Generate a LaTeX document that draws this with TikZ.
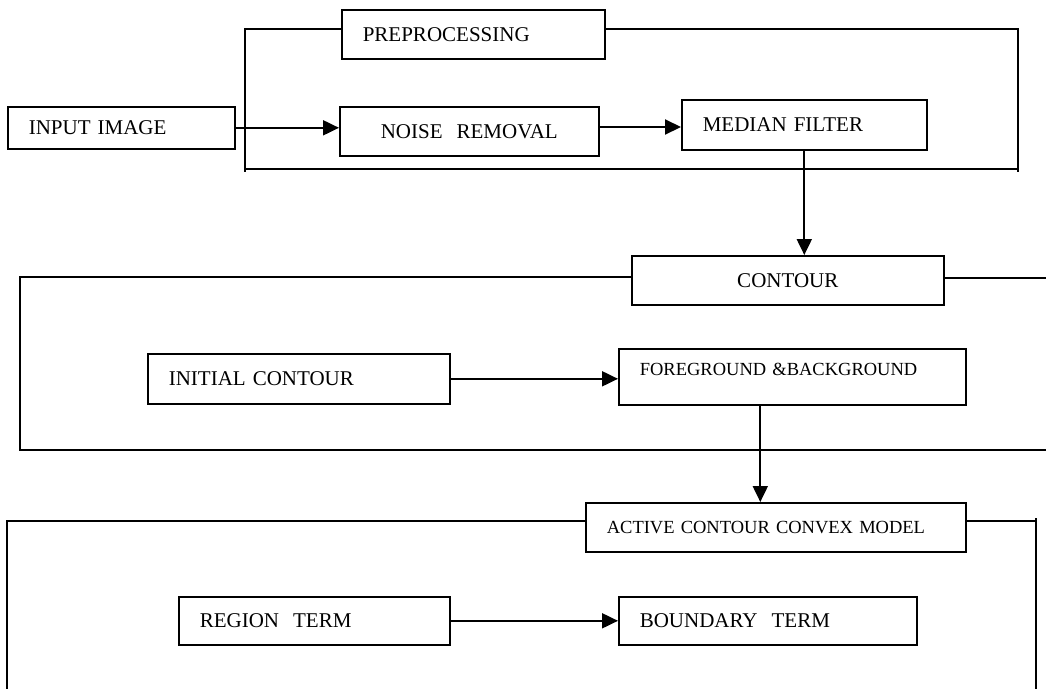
\documentclass[tikz,border=0pt]{standalone}
\usepackage{fontspec}
\setmainfont{Liberation Serif}
\usetikzlibrary{arrows.meta}
\begin{document}
\begin{tikzpicture}[x=1pt,y=-1pt,
  box/.style={draw=black, line width=1.6pt, anchor=north west, inner ysep=0pt, align=left,
    font=\fontsize{21}{25}\selectfont},
  smallbox/.style={box, font=\fontsize{18.5}{22}\selectfont},
  frame/.style={draw=black, line width=2pt},
  flow/.style={draw=black, line width=2pt, -{Triangle[length=16pt,width=15pt]}}]
\useasboundingbox (0,0) rectangle (1046,689);
% boxes
\node (pre) [box, inner xsep=21pt, text width=221pt, minimum height=49pt] at (341,9) {PREPROCESSING};
\node (input) [box, inner xsep=21pt, text width=185pt, minimum height=42pt] at (7,106) {INPUT IMAGE};
\node (noise) [box, inner xsep=41pt, text width=177pt, minimum height=49pt] at (339,106) {NOISE~ REMOVAL};
\node (median) [box, inner xsep=21pt, text width=203pt, minimum height=50pt] at (681,99) {MEDIAN FILTER};
\node (contour) [box, align=center, inner xsep=0pt, text width=312pt, minimum height=49pt] at (631,255) {CONTOUR};
\node (initial) [box, inner xsep=21pt, text width=260pt, minimum height=50pt] at (147,353) {INITIAL CONTOUR};
\node (fgbg) [smallbox, inner xsep=21pt, text width=305pt, minimum height=56pt, text depth=14pt] at (618,348) {FOREGROUND \&BACKGROUND};
\node (active) [smallbox, inner xsep=21pt, text width=338pt, minimum height=49pt] at (585,502) {ACTIVE CONTOUR CONVEX MODEL};
\node (region) [box, inner xsep=21pt, text width=229pt, minimum height=48pt] at (178,596) {REGION~ TERM};
\node (boundary) [box, inner xsep=21pt, text width=256pt, minimum height=48pt] at (618,596) {BOUNDARY~ TERM};
% group frames
\draw [frame] (pre.west |- 0,29) -- (245,29) -- (245,172);
\draw [frame] (pre.east |- 0,29) -- (1018,29) -- (1018,172);
\draw [frame] (245,169) -- (1018,169);
\draw [frame] (contour.west |- 0,277) -- (20,277) -- (20,450) -- (1046,450);
\draw [frame] (contour.east |- 0,278) -- (1046,278);
\draw [frame] (active.west |- 0,521) -- (7,521) -- (7,689);
\draw [frame] (active.east |- 0,521) -- (1036,521);
\draw [frame] (1036,518) -- (1036,689);
% arrows
\draw [flow] (input.east) -- (input.east -| noise.west);
\draw [flow] (noise.east |- 0,127) -- (median.west |- 0,127);
\draw [flow] (median.south) -- (median.south |- contour.north);
\draw [flow] (initial.east) -- (initial.east -| fgbg.west);
\draw [flow] ([xshift=-32pt]fgbg.south) -- ([xshift=-32pt]fgbg.south |- active.north);
\draw [flow] (region.east) -- (region.east -| boundary.west);
\end{tikzpicture}
\end{document}
